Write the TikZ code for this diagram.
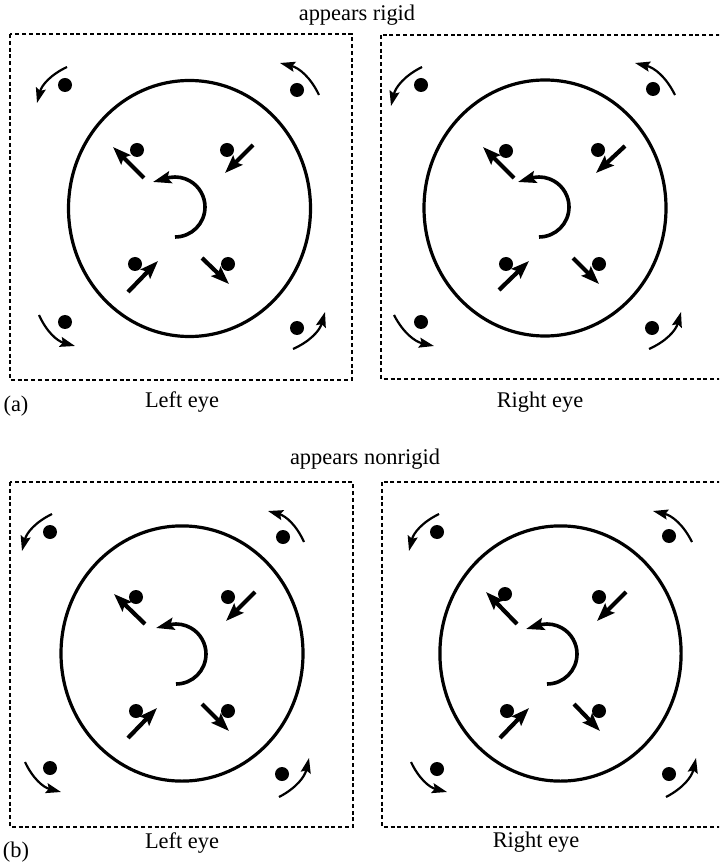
\documentclass[tikz,border=0pt]{standalone}
\usepackage{fontspec}
\setmainfont{Liberation Serif}
\usetikzlibrary{arrows.meta}

\begin{document}
\begin{tikzpicture}[x=0.5pt, y=-0.5pt,
    frame/.style={line width=0.55pt, dash pattern=on 2pt off 1.4pt},
    ring/.style={line width=1.6pt},
    push/.style={line width=2.1pt, -{Stealth[length=9pt, width=6.5pt, inset=1.5pt]}},
    turn/.style={line width=1.8pt, -{Stealth[length=9pt, width=6pt, inset=1.5pt]}},
    swirl/.style={line width=1.1pt, -{Stealth[length=7.5pt, width=5pt, inset=1.2pt]}},
    lab/.style={font=\fontsize{11.2}{13}\selectfont, inner sep=0pt, anchor=base}]
    \clip (0,0) rectangle (719,865);

    % --- 1. (a) appears rigid ---
    \node[lab] (ttlA) at (357,21) {appears rigid};
    \node[lab] (tagA) at (16,411) {(a)};
    \node[lab] (leftA) at (182,407) {Left eye};
    \node[lab] (rightA) at (540,407) {Right eye};

    % left eye
    \draw[frame] (10,34) rectangle (352,380);
    \draw[ring] (189.5,208.5) ellipse[x radius=60.5pt, y radius=64pt];
    \fill (65,85) circle[radius=3.5pt] (297,90) circle[radius=3.5pt]
          (65,322) circle[radius=3.5pt] (297,328) circle[radius=3.5pt]
          (137,150) circle[radius=3.5pt] (227,150) circle[radius=3.5pt]
          (135,264) circle[radius=3.5pt] (228,264) circle[radius=3.5pt];
    \draw[push] (144,178) -- (113,147);
    \draw[push] (253,145) -- (225,173);
    \draw[push] (128,292) -- (158,261);
    \draw[push] (202,258) -- (229,284);
    \draw[turn] (175,237) arc[start angle=-90, end angle=100, radius=15pt] -- (153,182);
    \draw[swirl] (67,67) to[bend right=25] (37,103);
    \draw[swirl] (319,95) to[bend right=25] (280,63);
    \draw[swirl] (39,315) to[bend right=25] (75,346);
    \draw[swirl] (293,349) to[bend right=25] (325,312);

    % right eye
    \draw[frame] (381,35) rectangle (730,379);
    \draw[ring] (545,208) ellipse[x radius=60.5pt, y radius=64pt];
    \fill (421,85) circle[radius=3.5pt] (653,89) circle[radius=3.5pt]
          (421,322) circle[radius=3.5pt] (652,328) circle[radius=3.5pt]
          (506,151) circle[radius=3.5pt] (598,150) circle[radius=3.5pt]
          (506,264) circle[radius=3.5pt] (599,264) circle[radius=3.5pt];
    \draw[push] (514,178) -- (483,147);
    \draw[push] (625,146) -- (596,173);
    \draw[push] (499,290) -- (529,261);
    \draw[push] (573,258) -- (599,284);
    \draw[turn] (539,237) arc[start angle=-90, end angle=100, radius=15pt] -- (518,182);
    \draw[swirl] (422,67) to[bend right=25] (391,106);
    \draw[swirl] (675,95) to[bend right=25] (635,63);
    \draw[swirl] (394,315) to[bend right=25] (434,346);
    \draw[swirl] (649,349) to[bend right=25] (681,312);

    % --- 2. (b) appears nonrigid ---
    \node[lab] (ttlB) at (365,464) {appears nonrigid};
    \node[lab] (tagB) at (16,857) {(b)};
    \node[lab] (leftB) at (182,848) {Left eye};
    \node[lab] (rightB) at (536,847) {Right eye};

    % left eye
    \draw[frame] (10,482) rectangle (353,827);
    \draw[ring] (182,653.5) ellipse[x radius=60.5pt, y radius=63.8pt];
    \fill (50,532) circle[radius=3.5pt] (283,537) circle[radius=3.5pt]
          (50,768) circle[radius=3.5pt] (282,774) circle[radius=3.5pt]
          (136,597) circle[radius=3.5pt] (228,597) circle[radius=3.5pt]
          (136,711) circle[radius=3.5pt] (228,711) circle[radius=3.5pt];
    \draw[push] (145,624) -- (114,594);
    \draw[push] (255,592) -- (226,621);
    \draw[push] (128,738) -- (157,708);
    \draw[push] (202,704) -- (229,731);
    \draw[turn] (176,684) arc[start angle=-90, end angle=100, radius=15pt] -- (156,628);
    \draw[swirl] (52,514) to[bend right=25] (22,551);
    \draw[swirl] (304,542) to[bend right=25] (268,511);
    \draw[swirl] (25,762) to[bend right=25] (61,792);
    \draw[swirl] (279,797) to[bend right=25] (309,758);

    % right eye
    \draw[frame] (382,482) rectangle (730,827);
    \draw[ring] (560.5,653.5) ellipse[x radius=60.3pt, y radius=63.8pt];
    \fill (437,532) circle[radius=3.5pt] (669,536) circle[radius=3.5pt]
          (437,769) circle[radius=3.5pt] (669,774) circle[radius=3.5pt]
          (505,594) circle[radius=3.5pt] (599,597) circle[radius=3.5pt]
          (507,711) circle[radius=3.5pt] (599,711) circle[radius=3.5pt];
    \draw[push] (517,624) -- (486,592);
    \draw[push] (626,592) -- (597,621);
    \draw[push] (500,738) -- (529,708);
    \draw[push] (574,704) -- (600,731);
    \draw[turn] (547,684) arc[start angle=-90, end angle=100, radius=15pt] -- (526,629);
    \draw[swirl] (439,514) to[bend right=25] (409,551);
    \draw[swirl] (692,542) to[bend right=25] (653,511);
    \draw[swirl] (411,762) to[bend right=25] (447,792);
    \draw[swirl] (666,797) to[bend right=25] (696,758);

\end{tikzpicture}
\end{document}
